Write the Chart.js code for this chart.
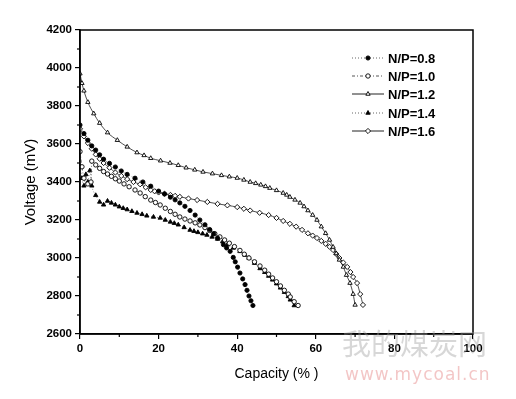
<!DOCTYPE html>
<html>
<head>
<meta charset="utf-8">
<script src="https://cdn.jsdelivr.net/npm/chart.js@4"></script>
<style>
  html, body { margin: 0; padding: 0; background: #fff; }
</style>
</head>
<body>
<canvas id="chart" width="516" height="399"></canvas>
<script>
// values
const seriesNames = ['N/P=0.8', 'N/P=1.0', 'N/P=1.2', 'N/P=1.4', 'N/P=1.6'];

const cap08 = [0, 1, 2, 3, 4, 5, 6, 7.5, 9, 10.5, 12, 14, 16, 18, 20, 21.5, 23, 24.2, 25.4, 26.7, 28, 29.3, 30.5, 31.8, 33, 34, 35, 36.5, 37.3, 38.2, 39, 39.5, 40.1, 40.7, 41.4, 42, 42.5, 43, 43.5, 44];
const volt08 = [3700, 3655, 3620, 3590, 3568, 3543, 3520, 3498, 3479, 3458, 3440, 3420, 3400, 3378, 3352, 3337, 3320, 3306, 3290, 3272, 3250, 3226, 3200, 3175, 3150, 3128, 3105, 3070, 3053, 3035, 3003, 2980, 2952, 2921, 2890, 2860, 2830, 2800, 2775, 2750];

const cap10 = [0, 0.5, 1, 2, 2.8, 3, 4, 5, 6, 7, 8, 9, 10, 11.2, 12.5, 14, 15.3, 16.6, 18, 19.2, 20.4, 21.7, 23, 24.2, 25.4, 26.7, 28, 29.3, 30.5, 31.8, 33, 34.3, 35.6, 36.8, 38, 39.3, 40.7, 41.8, 43, 44.4, 45.8, 47, 48, 49, 50, 51, 52, 53, 53.5, 54.5, 55.5];
const volt10 = [3560, 3480, 3420, 3390, 3400, 3510, 3490, 3472, 3455, 3442, 3430, 3417, 3405, 3390, 3375, 3358, 3342, 3323, 3305, 3292, 3279, 3262, 3245, 3230, 3216, 3205, 3195, 3185, 3174, 3160, 3145, 3128, 3111, 3095, 3078, 3060, 3040, 3020, 3000, 2980, 2958, 2936, 2915, 2895, 2875, 2853, 2830, 2810, 2795, 2770, 2750];

const cap12 = [0, 0.5, 1, 2, 3.5, 5, 7, 9.5, 12, 14.5, 16.3, 18, 20.5, 22.9, 25, 27, 29.2, 31.3, 33.7, 36, 38, 40, 41.7, 43.3, 44.7, 46, 47.2, 48.3, 50, 51.7, 52.6, 53.4, 54.7, 56, 57, 58, 59.2, 60.3, 61.4, 62.5, 63.5, 64.4, 65.2, 66, 67, 67.8, 68.7, 69.5, 70];
const volt12 = [3970, 3920, 3880, 3820, 3760, 3710, 3660, 3620, 3585, 3555, 3540, 3525, 3512, 3500, 3488, 3475, 3464, 3453, 3444, 3435, 3428, 3421, 3411, 3400, 3393, 3385, 3377, 3368, 3356, 3342, 3332, 3321, 3306, 3290, 3271, 3250, 3226, 3200, 3165, 3130, 3095, 3058, 3024, 2990, 2953, 2910, 2868, 2810, 2753];

const cap14 = [0, 0.5, 1, 1.5, 2, 2.5, 3, 4, 5, 6, 7, 8, 9, 10, 11, 12, 13.2, 14.5, 15.8, 17, 18.7, 20.4, 21.7, 23, 24, 25, 26.5, 28, 29, 30, 31.2, 32.3, 33.6, 35, 36.3, 37.5, 39, 40.7, 42, 43, 44.4, 45.8, 47, 48, 49, 50, 51, 52, 53, 53.5, 54.5];
const volt14 = [3480, 3420, 3380, 3440, 3400, 3460, 3380, 3330, 3295, 3280, 3300, 3290, 3280, 3270, 3262, 3255, 3246, 3237, 3230, 3222, 3216, 3211, 3200, 3190, 3183, 3175, 3161, 3147, 3141, 3135, 3128, 3121, 3111, 3100, 3086, 3070, 3053, 3035, 3015, 3000, 2973, 2945, 2925, 2905, 2885, 2865, 2843, 2820, 2798, 2780, 2750];

const cap16 = [0, 1, 2, 3, 4, 5, 6, 7.5, 9, 10.5, 12, 13.6, 15.3, 16.7, 18, 19, 20, 21.5, 23, 24.2, 25.4, 27.6, 29.8, 32.4, 35, 37.5, 40, 41.7, 43.3, 45.7, 48, 50, 51.7, 53.4, 55, 56.5, 58, 59.2, 60.3, 61.4, 62.5, 63.5, 64.4, 65.2, 66, 67, 68, 68.8, 69.5, 70.5, 71.3, 72];
const volt16 = [3680, 3640, 3605, 3575, 3545, 3522, 3500, 3475, 3450, 3432, 3415, 3400, 3388, 3372, 3358, 3351, 3345, 3338, 3332, 3327, 3322, 3313, 3305, 3295, 3285, 3277, 3268, 3259, 3250, 3238, 3226, 3211, 3195, 3180, 3165, 3148, 3130, 3118, 3105, 3090, 3075, 3059, 3042, 3021, 3000, 2976, 2953, 2926, 2900, 2868, 2810, 2753];

const xTicks = [0, 20, 40, 60, 80, 100];
const yTicks = [2600, 2800, 3000, 3200, 3400, 3600, 3800, 4000, 4200];

// marker / line look per series
const seriesStyle = [
  { point: 'circle',   fill: '#000', dash: [1, 2],       lineColor: '#666', radius: 2.1 },
  { point: 'circle',   fill: '#fff', dash: [3, 2, 1, 2], lineColor: '#555', radius: 2.2 },
  { point: 'triangle', fill: '#fff', dash: [],           lineColor: '#222', radius: 2.5 },
  { point: 'triangle', fill: '#000', dash: [1, 2],       lineColor: '#666', radius: 2.5 },
  { point: 'rectRot',  fill: '#fff', dash: [],           lineColor: '#222', radius: 2.6 }
];

function toPoints(xs, ys) {
  return xs.map((x, i) => ({ x: x, y: ys[i] }));
}

const allData = [
  toPoints(cap08, volt08),
  toPoints(cap10, volt10),
  toPoints(cap12, volt12),
  toPoints(cap14, volt14),
  toPoints(cap16, volt16)
];

const datasets = allData.map((pts, i) => ({
  label: seriesNames[i],
  data: pts,
  borderColor: seriesStyle[i].lineColor,
  borderWidth: 0.8,
  borderDash: seriesStyle[i].dash,
  pointStyle: seriesStyle[i].point,
  pointRadius: seriesStyle[i].radius,
  pointBackgroundColor: seriesStyle[i].fill,
  pointBorderColor: '#000',
  pointBorderWidth: 0.9,
  cubicInterpolationMode: 'monotone',
  fill: false
}));

// box, minor ticks, legend and watermark
const extras = {
  id: 'extras',
  afterDraw(chart) {
    const ctx = chart.ctx;
    const a = chart.chartArea;
    const xs = chart.scales.x, ys = chart.scales.y;
    ctx.save();
    ctx.strokeStyle = '#000';
    ctx.lineWidth = 1.5;
    ctx.strokeRect(a.left, a.top, a.right - a.left, a.bottom - a.top);

    ctx.lineWidth = 1.2;
    for (let v = 10; v < 100; v += 20) {
      const px = xs.getPixelForValue(v);
      ctx.beginPath(); ctx.moveTo(px, a.bottom); ctx.lineTo(px, a.bottom + 3); ctx.stroke();
    }
    for (let v = 2700; v < 4200; v += 200) {
      const py = ys.getPixelForValue(v);
      ctx.beginPath(); ctx.moveTo(a.left, py); ctx.lineTo(a.left - 3, py); ctx.stroke();
    }

    // legend
    const rowY = [58, 76, 94, 113, 131];
    seriesNames.forEach((name, i) => {
      const st = seriesStyle[i];
      const y = rowY[i];
      ctx.strokeStyle = st.lineColor;
      ctx.lineWidth = 1;
      ctx.setLineDash(st.dash);
      ctx.beginPath(); ctx.moveTo(352, y); ctx.lineTo(384, y); ctx.stroke();
      ctx.setLineDash([]);
      ctx.fillStyle = st.fill;
      ctx.strokeStyle = '#000';
      ctx.lineWidth = 0.9;
      Chart.helpers.drawPoint(ctx, { pointStyle: st.point, radius: st.radius, borderWidth: 0.9, rotation: 0 }, 368, y);
      ctx.fillStyle = '#000';
      ctx.font = 'bold 13px "Liberation Sans", Arial, sans-serif';
      ctx.textBaseline = 'middle';
      ctx.textAlign = 'left';
      ctx.fillText(name, 388, y + 1);
    });

    // site watermark
    ctx.globalAlpha = 0.4;
    ctx.fillStyle = '#9a9a9a';
    ctx.font = '29px "Noto Sans CJK SC", sans-serif';
    ctx.textBaseline = 'middle';
    ctx.fillText('我的煤炭网', 342, 344);
    ctx.fillStyle = '#e07070';
    ctx.font = '17px "DejaVu Sans", sans-serif';
    ctx.letterSpacing = '1px';
    ctx.fillText('www.mycoal.cn', 345, 376);
    ctx.restore();
  }
};

const tickFont = { family: '"Liberation Sans", Arial, sans-serif', size: 11.5, weight: 'bold' };

new Chart(document.getElementById('chart'), {
  type: 'line',
  data: { datasets: datasets },
  options: {
    responsive: false,
    animation: false,
    layout: { padding: { top: 30, right: 43, left: 0, bottom: 0 } },
    plugins: {
      legend: { display: false },
      tooltip: { enabled: false }
    },
    scales: {
      x: {
        type: 'linear',
        min: 0, max: 100,
        afterFit: s => { s.height = 65; },
        afterBuildTicks: s => { s.ticks = xTicks.map(v => ({ value: v })); },
        grid: { drawOnChartArea: false, tickLength: 5, color: '#000', lineWidth: 1.2 },
        border: { color: '#000', width: 1.5 },
        ticks: { color: '#000', font: tickFont, padding: 3, maxRotation: 0, callback: v => String(v) },
        title: {
          display: true, text: 'Capacity (% )', color: '#000',
          font: { family: '"Liberation Sans", Arial, sans-serif', size: 14 },
          padding: { top: 0, bottom: 16 }
        }
      },
      y: {
        min: 2600, max: 4200,
        afterFit: s => { s.width = 80; },
        afterBuildTicks: s => { s.ticks = yTicks.map(v => ({ value: v })); },
        grid: { drawOnChartArea: false, tickLength: 5, color: '#000', lineWidth: 1.2 },
        border: { color: '#000', width: 1.5 },
        ticks: { color: '#000', font: tickFont, padding: 3, callback: v => String(v) },
        title: {
          display: true, text: 'Voltage (mV)', color: '#000',
          font: { family: '"Liberation Sans", Arial, sans-serif', size: 15 },
          padding: { top: 22, bottom: 0 }
        }
      }
    }
  },
  plugins: [extras]
});
</script>
</body>
</html>
